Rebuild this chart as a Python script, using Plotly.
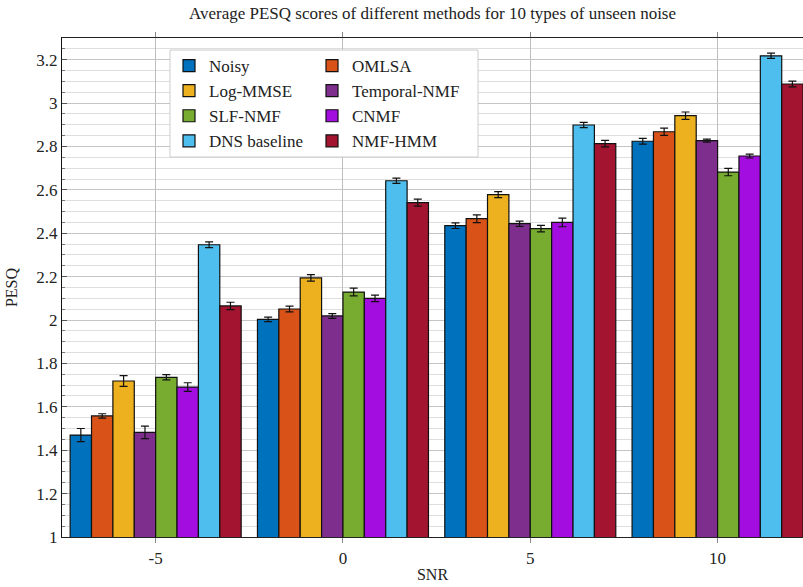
import plotly.graph_objects as go

snr = [-5, 0, 5, 10]
methods = ["Noisy", "OMLSA", "Log-MMSE", "Temporal-NMF", "SLF-NMF", "CNMF", "DNS baseline", "NMF-HMM"]
colors = ["#0072BD", "#D95319", "#EDB120", "#7E2F8E", "#77AC30", "#A30DE0", "#4DBEEE", "#A2142F"]

pesq = {
    "Noisy":        [1.470, 2.003, 2.435, 2.824],
    "OMLSA":        [1.558, 2.051, 2.467, 2.868],
    "Log-MMSE":     [1.719, 2.194, 2.578, 2.942],
    "Temporal-NMF": [1.482, 2.019, 2.444, 2.827],
    "SLF-NMF":      [1.736, 2.129, 2.421, 2.682],
    "CNMF":         [1.691, 2.100, 2.450, 2.756],
    "DNS baseline": [2.347, 2.642, 2.899, 3.218],
    "NMF-HMM":      [2.065, 2.541, 2.813, 3.088],
}
err = {
    "Noisy":        [0.030, 0.010, 0.013, 0.013],
    "OMLSA":        [0.010, 0.013, 0.018, 0.017],
    "Log-MMSE":     [0.025, 0.015, 0.014, 0.017],
    "Temporal-NMF": [0.029, 0.011, 0.012, 0.007],
    "SLF-NMF":      [0.012, 0.018, 0.015, 0.017],
    "CNMF":         [0.020, 0.015, 0.020, 0.009],
    "DNS baseline": [0.013, 0.012, 0.012, 0.012],
    "NMF-HMM":      [0.017, 0.016, 0.015, 0.013],
}

FONT = "Liberation Serif"
fig = go.Figure()
for i, m in enumerate(methods):
    fig.add_trace(go.Bar(
        x=snr, y=pesq[m], name=m,
        marker=dict(color=colors[i], line=dict(color="#111111", width=1.2)),
        error_y=dict(type="data", array=err[m], color="#111111", thickness=1.2, width=4),
        legend="legend" if i % 2 == 0 else "legend2",
    ))

LEG_TOP = 48
fig.update_layout(
    width=803, height=587,
    margin=dict(l=62, r=0, t=38, b=50),
    paper_bgcolor="white", plot_bgcolor="white",
    barmode="group", bargap=0.087, bargroupgap=0,
    font=dict(family=FONT, size=16, color="#222"),
    title=dict(text="Average PESQ scores of different methods for 10 types of unseen noise",
               x=(62 + 803) / 2 / 803, xanchor="center", y=1 - 13 / 587, yanchor="middle",
               font=dict(size=17, family=FONT, color="#222")),
    xaxis=dict(range=[-7.5, 12.28], tickvals=snr, ticktext=[str(s) for s in snr],
               showgrid=True, gridcolor="#bdbdbd", gridwidth=1,
               showline=True, linecolor="#222", linewidth=1.2, mirror="ticks",
               ticks="outside", ticklen=5, tickcolor="#888",
               title=dict(text="SNR", standoff=2, font=dict(size=16)), zeroline=False,
               tickfont=dict(size=17)),
    yaxis=dict(range=[1, 3.3], tick0=1, dtick=0.2, tickformat="~g",
               showgrid=True, gridcolor="#c4c4c4", gridwidth=1,
               showline=True, linecolor="#111", linewidth=1.2, mirror=False,
               ticks="inside", ticklen=5, tickcolor="#555",
               minor=dict(dtick=0.05, showgrid=True, gridcolor="#dedede", ticks="inside", ticklen=3, tickcolor="#777"),
               title=dict(text="PESQ", standoff=14, font=dict(size=16)), zeroline=False,
               tickfont=dict(size=17)),
    legend=dict(x=(169 - 62) / 741, xanchor="left", y=1 - (LEG_TOP - 38) / 499, yanchor="top",
                bgcolor="rgba(0,0,0,0)", borderwidth=0, font=dict(size=17, family=FONT),
                tracegroupgap=0, itemwidth=30),
    legend2=dict(x=(312 - 62) / 741, xanchor="left", y=1 - (LEG_TOP - 38) / 499, yanchor="top",
                 bgcolor="rgba(0,0,0,0)", borderwidth=0, font=dict(size=17, family=FONT),
                 tracegroupgap=0, itemwidth=30),
    shapes=[dict(type="rect", xref="paper", yref="paper",
                 x0=(170 - 62) / 741, x1=(478 - 62) / 741,
                 y0=1 - (157 - 38) / 499, y1=1 - (50 - 38) / 499,
                 fillcolor="white", line=dict(color="#cccccc", width=1), layer="above")],
)

fig.write_html("out.html")
